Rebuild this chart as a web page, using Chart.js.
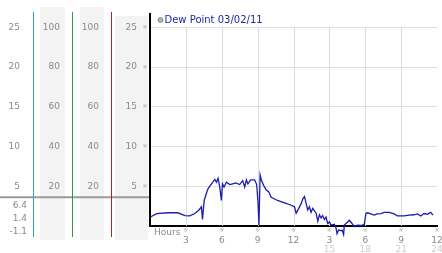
<!DOCTYPE html>
<html>
<head>
<meta charset="utf-8">
<script src="https://cdn.jsdelivr.net/npm/chart.js@4"></script>
<style>
html, body { margin: 0; padding: 0; background: #fff; }
#wrap { width: 442px; height: 253px; }
</style>
</head>
<body>
<div id="wrap"><canvas id="grafico"></canvas></div>
<script>
// datos (horas desde el inicio, punto de rocio en °C)
const serieNombre = 'Dew Point 03/02/11';
const horas = [0, 0.56, 1.5, 2.33, 2.92, 3.33, 3.75, 4.1, 4.3, 4.39, 4.53, 4.72, 4.86, 5.14, 5.42, 5.56, 5.69, 5.83, 5.97, 6.06,
  6.19, 6.39, 6.67, 6.92, 7.17, 7.5, 7.75, 7.92, 8.06, 8.19, 8.42, 8.75, 8.92, 9.03, 9.11, 9.21, 9.33, 9.5, 9.72, 9.92,
  10.14, 10.67, 11.25, 11.81, 12.08, 12.22, 12.44, 12.64, 12.78, 12.92, 13.06, 13.19, 13.33, 13.47, 13.61, 13.89, 14.03, 14.17, 14.31, 14.44,
  14.58, 14.72, 14.86, 15.0, 15.14, 15.42, 15.56, 15.64, 15.78, 15.92, 16.08, 16.19, 16.25, 16.53, 16.67, 16.89, 17.08, 17.33, 17.67, 17.92,
  18.06, 18.19, 18.47, 18.75, 19.0, 19.31, 19.58, 20.0, 20.42, 20.69, 21.25, 21.67, 22.08, 22.36, 22.64, 22.92, 23.19, 23.47, 23.67];
const puntoRocio = [1.1, 1.55, 1.65, 1.65, 1.3, 1.27, 1.55, 2.0, 2.4, 0.8, 3.2, 4.1, 4.7, 5.3, 5.85, 5.5, 6.0, 4.9, 3.2, 5.3,
  4.9, 5.5, 5.2, 5.3, 5.4, 5.2, 5.7, 4.9, 5.8, 5.3, 5.8, 5.8, 5.2, 3.0, 0.1, 6.4, 5.7, 5.1, 4.5, 4.3,
  3.6, 3.2, 2.9, 2.6, 2.4, 1.6, 2.2, 2.8, 3.4, 3.7, 2.8, 2.0, 2.4, 1.7, 2.2, 1.6, 0.6, 1.4, 1.0, 1.3,
  0.8, 1.1, 0.3, 0.5, 0.1, 0.2, -0.3, -1.0, -0.5, -0.6, -0.55, -1.1, 0.1, 0.5, 0.7, 0.3, -0.1, 0.1, 0.05, 0.2,
  1.6, 1.65, 1.5, 1.35, 1.5, 1.55, 1.7, 1.7, 1.5, 1.25, 1.25, 1.35, 1.4, 1.5, 1.25, 1.55, 1.45, 1.7, 1.35];
const tempTicks = [5, 10, 15, 20, 25];
const humTicks = [20, 40, 60, 80, 100];
const horaTicks = [3, 6, 9, 12, 15, 18, 21, 24];
const horaLabels = ['3', '6', '9', '12', '3', '6', '9', '12'];
const horaTicks2 = [15, 18, 21, 24];
const resumen = ['6.4', '1.4', '-1.1'];

const FAM = 'DejaVu Sans';
const fuente = { family: FAM, size: 9 };
const gris = '#8a8a8a';
const coloresEje = { cian: '#2fa3d0', verde: '#2ca02c', rojo: '#b3221c' };

// ancho fijo y sin el relleno automatico que Chart.js pide para las etiquetas
function ajustar(w) {
    return s => {
        if (w) s.width = w;
        s.paddingTop = s.paddingBottom = s.paddingLeft = s.paddingRight = 0;
    };
}
function ticksFijos(vals) { return s => { s.ticks = vals.map(v => ({ value: v })); }; }

function ejeIzq(min, max, peso, ancho, vals, pad) {
    return {
        min, max, position: 'left', weight: peso,
        afterFit: ajustar(ancho), afterBuildTicks: ticksFijos(vals),
        grid: { display: false, drawTicks: false },
        border: { display: false },
        ticks: { font: fuente, color: gris, padding: pad }
    };
}

// fondos grises, rejilla vertical, textos sueltos y leyenda
const decorado = {
    id: 'decorado',
    beforeDraw(chart) {
        const { ctx, chartArea: a, scales: s } = chart;
        ctx.save();
        ctx.fillStyle = '#f3f3f3';
        ctx.fillRect(s.verde.left + 7, a.top - 6, s.verde.width - 14, a.bottom - a.top + 9);
        ctx.fillRect(s.rojo.left + 8, a.top - 6, s.rojo.width - 15, a.bottom - a.top + 9);
        ctx.fillRect(s.y.left + 4, a.top + 3, s.y.width - 6, a.bottom - a.top);
        ctx.restore();
    },
    beforeDatasetsDraw(chart) {
        const { ctx, scales: s } = chart;
        ctx.save();
        ctx.strokeStyle = '#dddddd';
        ctx.lineWidth = 1;
        horaTicks.slice(0, -1).forEach(h => {
            const px = Math.round(s.x.getPixelForValue(h)) + 0.5;
            ctx.beginPath();
            ctx.moveTo(px, s.y.getPixelForValue(25));
            ctx.lineTo(px, s.y.getPixelForValue(0));
            ctx.stroke();
        });
        ctx.restore();
    },
    afterDraw(chart) {
        const { ctx, chartArea: a, scales: s } = chart;
        ctx.save();
        // separador gris de la izquierda
        const yDiv = s.y.getPixelForValue(5) + 11;
        ctx.strokeStyle = '#9a9a9a';
        ctx.lineWidth = 2;
        ctx.beginPath();
        ctx.moveTo(0, yDiv);
        ctx.lineTo(a.left - 1, yDiv);
        ctx.stroke();
        // lineas de color de cada eje izquierdo
        ctx.lineWidth = 1;
        Object.keys(coloresEje).forEach(id => {
            const px = Math.round(s[id].right) + 0.5;
            ctx.strokeStyle = coloresEje[id];
            ctx.beginPath();
            ctx.moveTo(px, a.top - 1);
            ctx.lineTo(px, a.bottom);
            ctx.stroke();
        });
        // eje principal negro
        ctx.strokeStyle = '#000';
        ctx.lineWidth = 2;
        ctx.beginPath();
        ctx.moveTo(a.left, a.top);
        ctx.lineTo(a.left, s.y.getPixelForValue(0));
        ctx.stroke();
        // max / media / min
        ctx.font = '9px "' + FAM + '"';
        ctx.fillStyle = gris;
        ctx.textAlign = 'right';
        ctx.textBaseline = 'middle';
        resumen.forEach((t, i) => ctx.fillText(t, s.cian.right - 6, yDiv + 8 + i * 13));
        // marcas de los ticks
        ctx.font = '6px "' + FAM + '"';
        ctx.fillStyle = '#b0b0b0';
        ctx.textAlign = 'center';
        tempTicks.forEach(v => ctx.fillText('※', a.left - 5, s.y.getPixelForValue(v)));
        horaTicks.forEach(h => ctx.fillText('※', s.x.getPixelForValue(h), s.y.getPixelForValue(0) + 5));
        // titulo del eje x
        ctx.font = '9px "' + FAM + '"';
        ctx.fillStyle = gris;
        ctx.textAlign = 'left';
        ctx.fillText('Hours', a.left + 4, s.y.getPixelForValue(0) + 7);
        // leyenda
        const ly = a.top + 7;
        ctx.beginPath();
        ctx.arc(a.left + 10.5, ly, 2.5, 0, Math.PI * 2);
        ctx.fillStyle = '#b4b4b4';
        ctx.fill();
        ctx.strokeStyle = '#8c8c8c';
        ctx.lineWidth = 1;
        ctx.stroke();
        ctx.font = '10px "' + FAM + '"';
        ctx.fillStyle = '#2323a6';
        ctx.fillText(chart.data.datasets[0].label, a.left + 14.5, ly);
        ctx.restore();
    }
};

new Chart(document.getElementById('grafico'), {
    type: 'line',
    data: {
        datasets: [{
            label: serieNombre,
            data: horas.map((h, i) => ({ x: h, y: puntoRocio[i] })),
            borderColor: '#1c1cb0',
            borderWidth: 1.3,
            pointRadius: 0,
            tension: 0,
            fill: false
        }]
    },
    options: {
        responsive: true,
        maintainAspectRatio: false,
        animation: false,
        layout: { padding: { top: 13, bottom: 16, left: 0, right: 5 } },
        plugins: { legend: { display: false }, tooltip: { enabled: false } },
        scales: {
            x: {
                type: 'linear', min: 0, max: 24, position: { y: 0 },
                afterFit: ajustar(0), afterBuildTicks: ticksFijos(horaTicks),
                grid: { display: false, drawTicks: false },
                border: { display: true, color: '#000', width: 2 },
                ticks: { font: fuente, color: gris, padding: 9, maxRotation: 0, autoSkip: false, callback: (v, i) => horaLabels[i] }
            },
            x2: {
                type: 'linear', min: 0, max: 24, position: { y: 0 },
                afterFit: ajustar(0), afterBuildTicks: ticksFijos(horaTicks2),
                grid: { display: false, drawTicks: false },
                border: { display: false },
                ticks: { font: fuente, color: '#cfcfcf', padding: 18, maxRotation: 0, autoSkip: false }
            },
            y: {
                min: -1.4, max: 26.8, position: 'left', weight: 0,
                afterFit: ajustar(39), afterBuildTicks: ticksFijos(tempTicks),
                grid: { color: '#dddddd', drawTicks: false },
                border: { display: false },
                ticks: { font: fuente, color: gris, padding: 13 }
            },
            rojo: ejeIzq(-5.6, 107.2, 1, 39, humTicks, 12),
            verde: ejeIzq(-5.6, 107.2, 2, 39, humTicks, 12),
            cian: ejeIzq(-1.4, 26.8, 3, 33, tempTicks, 13)
        }
    },
    plugins: [decorado]
});
</script>
</body>
</html>
